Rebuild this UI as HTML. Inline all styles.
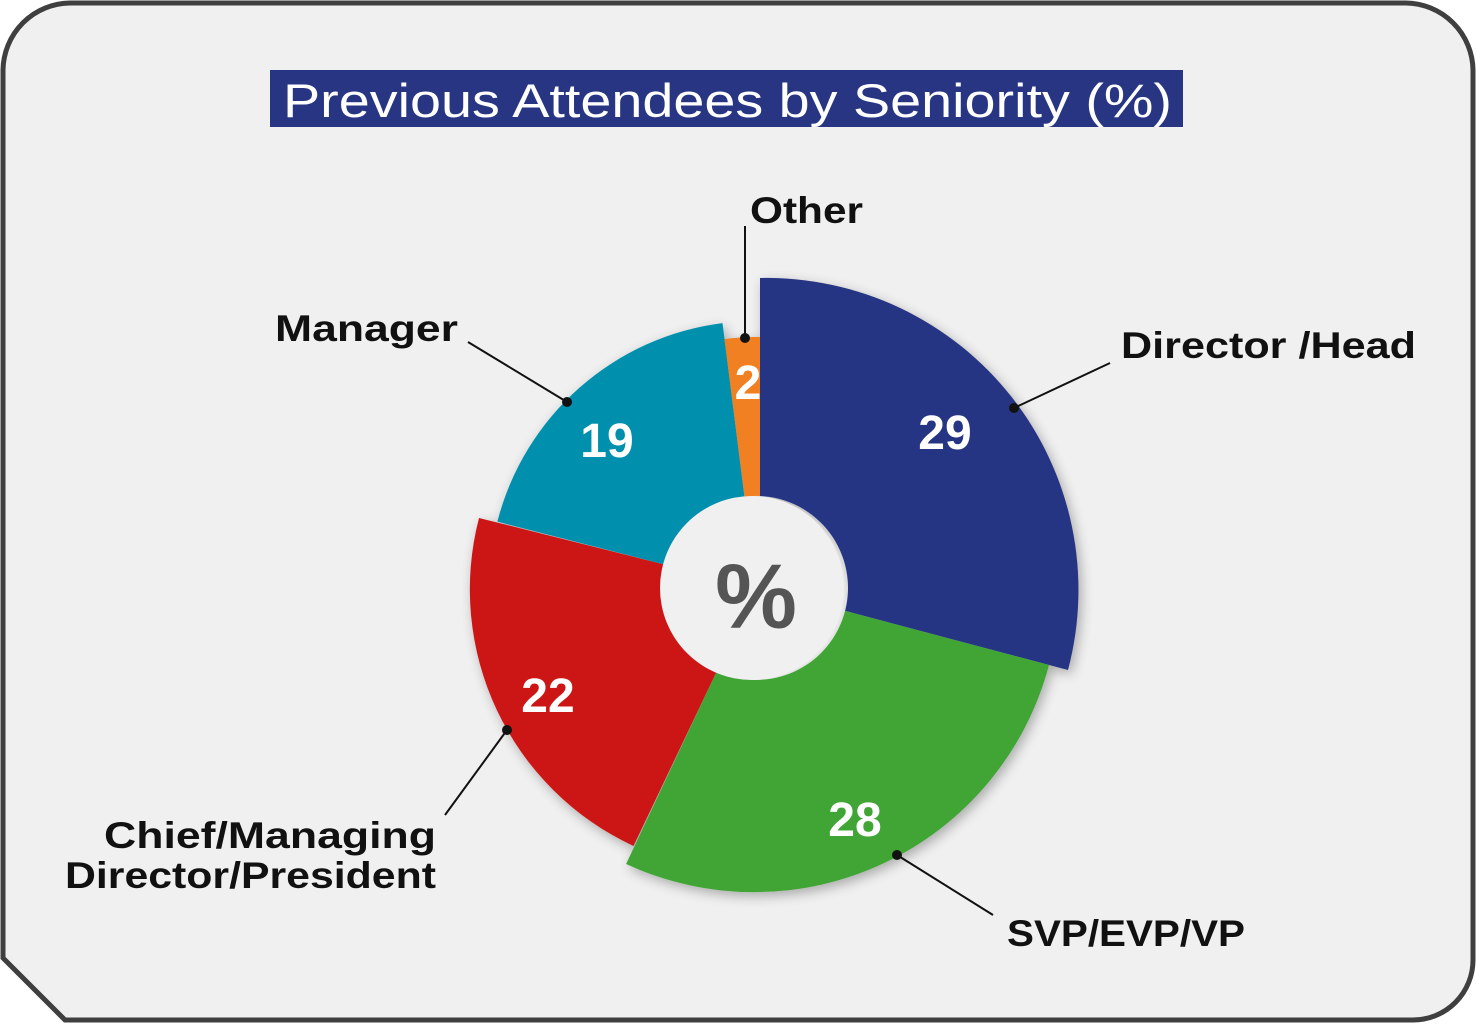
<!DOCTYPE html>
<html><head><meta charset="utf-8"><style>
html,body{margin:0;padding:0;background:#fff;}
svg{display:block;}
text{font-family:"Liberation Sans",Arial,sans-serif;font-weight:bold;}
</style></head><body>
<svg width="1476" height="1024" viewBox="0 0 1476 1024" xmlns="http://www.w3.org/2000/svg">
<defs>
<filter id="sh" x="-20%" y="-20%" width="140%" height="140%">
<feGaussianBlur in="SourceAlpha" stdDeviation="6"/>
<feOffset dx="3" dy="4" result="b"/>
<feComponentTransfer><feFuncA type="linear" slope="0.3"/></feComponentTransfer>
<feMerge><feMergeNode/><feMergeNode in="SourceGraphic"/></feMerge>
</filter>
</defs>
<path d="M70,3 H1406 A68,68 0 0 1 1473,70 V960 A60,60 0 0 1 1413,1020 H65 L3,958 V70 A68,68 0 0 1 70,3 Z" fill="#f0f0f0" stroke="#3f3f3f" stroke-width="5"/>
<rect x="270" y="70" width="913" height="57" fill="#283583"/>
<text x="283" y="117" font-size="47" fill="#fff" style="font-weight:normal" textLength="889" lengthAdjust="spacingAndGlyphs">Previous Attendees by Seniority (%)</text>
<g filter="url(#sh)">
<path d="M760,278 A312,312 0 0 1 1068,670 L845.1,610.9 A92,92 0 0 0 760,496 Z" fill="#283583"/>
<path d="M1049,665 A305,305 0 0 1 626.1,864 L716.8,671.2 A92,92 0 0 0 845.1,610.9 Z" fill="#41a535"/>
<path d="M633.5,846 A283,283 0 0 1 479,518 L666.9,565.1 A92,92 0 0 0 716.8,671.2 Z" fill="#cc1719"/>
<path d="M497.4,521.6 A267,267 0 0 1 722.5,323.1 L744.5,496.7 A92,92 0 0 0 666.9,565.1 Z" fill="#0090ae"/>
<path d="M724.5,339 A251,251 0 0 1 760,337 L760,496 A92,92 0 0 0 744.5,496.7 Z" fill="#f08020"/>
</g>
<circle cx="752" cy="588" r="92" fill="#f0f0f0"/>
<text x="756" y="628" font-size="92" fill="#555" text-anchor="middle">%</text>
<g fill="#fff" font-size="48" text-anchor="middle">
<text x="945" y="449">29</text>
<text x="855" y="836">28</text>
<text x="548" y="712">22</text>
<text x="607" y="457">19</text>
<text x="748" y="399">2</text>
</g>
<g stroke="#111" stroke-width="2">
<line x1="1014" y1="408" x2="1110" y2="363"/>
<line x1="567" y1="402" x2="468" y2="342"/>
<line x1="745" y1="338" x2="745" y2="226"/>
<line x1="507" y1="730" x2="445" y2="815"/>
<line x1="897" y1="855" x2="993" y2="915"/>
</g>
<g fill="#111">
<circle cx="1014" cy="408" r="5"/><circle cx="567" cy="402" r="5"/><circle cx="745" cy="338" r="5"/><circle cx="507" cy="730" r="5"/><circle cx="897" cy="855" r="5"/>
</g>
<g fill="#111" font-size="37" lengthAdjust="spacingAndGlyphs">
<text x="1121" y="358" textLength="295" lengthAdjust="spacingAndGlyphs">Director /Head</text>
<text x="750" y="223" textLength="113" lengthAdjust="spacingAndGlyphs">Other</text>
<text x="275" y="341" textLength="183" lengthAdjust="spacingAndGlyphs">Manager</text>
<text x="104" y="848" textLength="332" lengthAdjust="spacingAndGlyphs">Chief/Managing</text>
<text x="65" y="888" textLength="371" lengthAdjust="spacingAndGlyphs">Director/President</text>
<text x="1007" y="946" textLength="238" lengthAdjust="spacingAndGlyphs">SVP/EVP/VP</text>
</g>
</svg>
</body></html>
